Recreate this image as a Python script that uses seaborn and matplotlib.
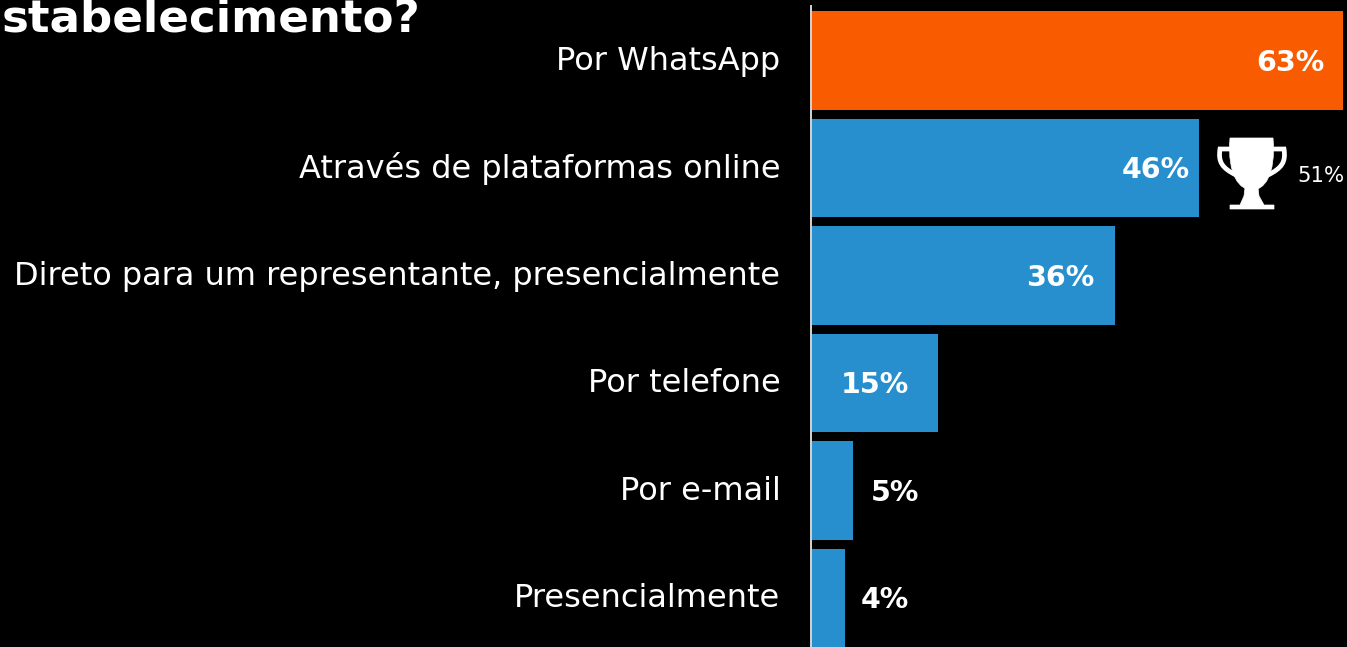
import matplotlib
matplotlib.use("Agg")
import matplotlib.pyplot as plt
from matplotlib.patches import PathPatch
from matplotlib.path import Path
from matplotlib.transforms import Affine2D, ScaledTranslation
import pandas as pd
import seaborn as sns

categories = ["Por WhatsApp", "Através de plataformas online",
              "Direto para um representante, presencialmente",
              "Por telefone", "Por e-mail", "Presencialmente"]
values = [63, 46, 36, 15, 5, 4]
value_labels = ["63%", "46%", "36%", "15%", "5%", "4%"]
bar_colors = ["#F95C00", "#288FCF", "#288FCF", "#288FCF", "#288FCF", "#288FCF"]
title_text = "stabelecimento?"
trophy_label = "51%"

W, H = 1347, 647
FONT = "DejaVu Sans"

sns.set_theme(style="dark", rc={"figure.facecolor": "black", "axes.facecolor": "black",
                                "savefig.facecolor": "black"})
plt.rcParams["font.family"] = [FONT]

fig = plt.figure(figsize=(W / 100, H / 100), dpi=100)
# bars run from x=811 to 1343, plot starts just under the top edge
ax = fig.add_axes([811 / W, 0, 532 / W, (H - 6) / H])

df = pd.DataFrame({"cat": categories, "val": values})
sns.barplot(data=df, x="val", y="cat", hue="cat", palette=bar_colors, saturation=1,
            width=0.92, legend=False, orient="h", linewidth=0, ax=ax)

ax.set_xlim(0, 63)
ax.set_ylim(5.456, -0.507)
ax.set(xlabel="", ylabel="")
ax.set_xticks([])
ax.grid(False)
ax.tick_params(axis="y", length=0, pad=22, labelsize=23, labelcolor="white")
# tick labels sit a bit above the bar centres
up = ScaledTranslation(0, 2 / 72, fig.dpi_scale_trans)
for lab in ax.get_yticklabels():
    lab.set_transform(lab.get_transform() + up)
sns.despine(ax=ax, top=True, right=True, bottom=True)
ax.spines["left"].set_color("#D4D4D4")
ax.spines["left"].set_linewidth(1.4)

# value labels, inside the long bars and outside the two short ones
nudge = [-19, -10, -21, -29, 18, 16]
for i, v in enumerate(values):
    ax.annotate(value_labels[i], (v, i), xytext=(nudge[i] * 0.72, -1.5), textcoords="offset points",
                ha="right" if nudge[i] < 0 else "left", va="center",
                color="white", fontsize=20.5, fontweight="bold")

fig.text(2 / W, 1 - 32 / H, title_text, color="white", fontsize=32.5, fontweight="bold",
         ha="left", va="baseline")
fig.text(1297 / W, 1 - 176 / H, trophy_label, color="white", fontsize=15.3, ha="left", va="center")

# trophy icon, drawn in pixel space
px = Affine2D().scale(1, -1).translate(0, H)
cup = Path([(1230, 138), (1273, 138), (1276, 176), (1264, 190), (1252, 190),
            (1240, 190), (1227, 176), (1230, 138), (1230, 138)],
           [Path.MOVETO, Path.LINETO] + [Path.CURVE4] * 6 + [Path.CLOSEPOLY])
stand = Path([(1245, 188), (1258, 188), (1259, 196), (1264, 205), (1274, 205), (1274, 209),
              (1230, 209), (1230, 205), (1240, 205), (1244, 196), (1245, 188)])
handle_l = Path([(1232, 149), (1220, 149), (1218, 162), (1222, 168), (1236, 175)],
                [Path.MOVETO, Path.LINETO] + [Path.CURVE4] * 3)
handle_r = Path([(1272, 149), (1284, 149), (1286, 162), (1282, 168), (1268, 175)],
                [Path.MOVETO, Path.LINETO] + [Path.CURVE4] * 3)
for p in [cup, stand]:
    fig.add_artist(PathPatch(p, facecolor="white", edgecolor="white", lw=0.5, transform=px))
for p in [handle_l, handle_r]:
    fig.add_artist(PathPatch(p, facecolor="none", edgecolor="white", lw=3.4, transform=px))

fig.savefig("out.png", dpi=100)
